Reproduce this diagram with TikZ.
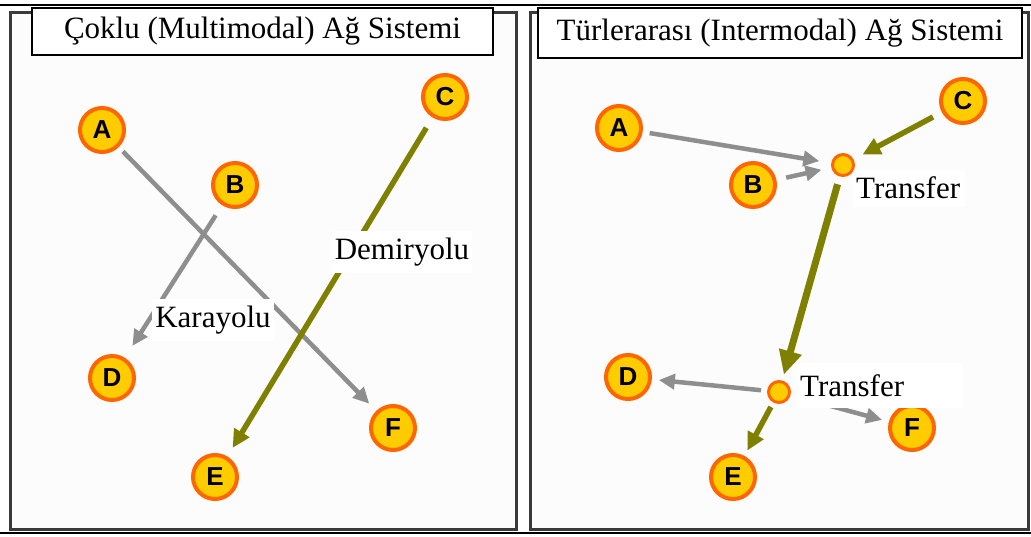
\documentclass[tikz,border=0pt]{standalone}
\usepackage{fontspec}
\setmainfont{Liberation Serif}
\newfontfamily\circfont{Liberation Sans}
\usetikzlibrary{arrows.meta}
\definecolor{ringc}{HTML}{FF6600}
\definecolor{fillc}{HTML}{FFCC00}
\definecolor{roadc}{HTML}{8E8E8E}
\definecolor{railc}{HTML}{808000}
\definecolor{framec}{HTML}{3A3A3A}
\definecolor{panelbg}{HTML}{FCFCFC}
\begin{document}
\begin{tikzpicture}[x=1pt,y=-1pt,
 city/.style={circle, draw=ringc, fill=fillc, line width=4pt, minimum size=44pt, inner sep=0pt, font=\circfont\bfseries\fontsize{26}{26}\selectfont},
 hub/.style={circle, draw=ringc, fill=fillc, line width=3pt, minimum size=21pt, inner sep=0pt},
 road/.style={draw=roadc, line width=4.5pt, -{Triangle[length=16pt,width=15pt]}},
 rail/.style={draw=railc, line width=5.5pt, -{Triangle[length=18pt,width=17pt]}},
 mainrail/.style={draw=railc, line width=7pt, -{Triangle[length=24pt,width=22pt]}},
 lbl/.style={fill=white, inner xsep=3pt, minimum height=42pt, font=\fontsize{31}{31}\selectfont},
 titlebox/.style={draw=black, line width=1.5pt, fill=white, inner sep=0pt, font=\fontsize{31}{31}\selectfont},
 panel/.style={draw=framec, line width=3pt, fill=panelbg}
]
\useasboundingbox (0,0) rectangle (1031,536);
\fill[white] (0,0) rectangle (1031,536);
% frames
\draw[black, line width=1.5pt] (0,5) -- (1031,5);
\draw[black, line width=1.5pt] (0,533) -- (1031,533);
\draw[panel] (10,12) rectangle (516,529);
\draw[panel] (530,12) rectangle (1028,529);

% ---------- left panel ----------
\node[city] (A1) at (102,130) {A};
\node[city] (B1) at (235,185) {B};
\node[city] (C1) at (445,97) {C};
\node[city] (D1) at (112,378) {D};
\node[city] (E1) at (215,477) {E};
\node[city] (F1) at (393,428) {F};
\draw[road, shorten <=6pt, shorten >=10pt] (A1) -- (F1);
\draw[road, shorten <=12pt, shorten >=14pt] (B1) -- (D1);
\draw[rail, shorten <=12pt, shorten >=10pt] (C1) -- (E1);
\node[lbl] (rail1) at (402,252) {Demiryolu};
\node[lbl] (road1) at (213,320) {Karayolu};

% ---------- right panel ----------
\node[city] (A2) at (619,128) {A};
\node[city] (B2) at (753,185) {B};
\node[city] (C2) at (963,101) {C};
\node[city] (D2) at (628,377) {D};
\node[city] (E2) at (733,477) {E};
\node[city] (F2) at (912,428) {F};
\node[hub] (T1) at (843,165) {};
\node[hub] (T2) at (779,392) {};
\draw[road, shorten <=7pt, shorten >=12pt] (A2) -- (T1);
\draw[road, shorten <=10pt, shorten >=10pt] (B2) -- (T1);
\draw[rail, shorten <=10pt, shorten >=10pt] (C2) -- (T1);
\draw[mainrail, shorten <=8pt, shorten >=6pt] (T1) -- (T2);
\draw[road, shorten <=6pt, shorten >=7pt] (T2) -- (D2);
\draw[rail, shorten <=5pt, shorten >=6pt] (T2) -- (E2);
\draw[road, shorten <=9pt, shorten >=7pt] (T2) -- (F2);
\node[fill=white, anchor=west, inner xsep=3pt, inner ysep=0pt, minimum height=37pt, text width=106pt, align=left, font=\fontsize{31}{31}\selectfont] (tr1) at (853,188) {Transfer};
\node[fill=white, anchor=west, inner xsep=3pt, inner ysep=0pt, minimum height=45pt, text width=159pt, align=left, font=\fontsize{31}{31}\selectfont] (tr2) at (797,385.5) {Transfer};

% titles
\node[titlebox, minimum width=461pt, minimum height=47pt] (t1) at (262.5,31.5) {Çoklu (Multimodal) Ağ Sistemi};
\node[titlebox, minimum width=484pt, minimum height=50pt] (t2) at (780,33) {Türlerarası (Intermodal) Ağ Sistemi};
\end{tikzpicture}
\end{document}
